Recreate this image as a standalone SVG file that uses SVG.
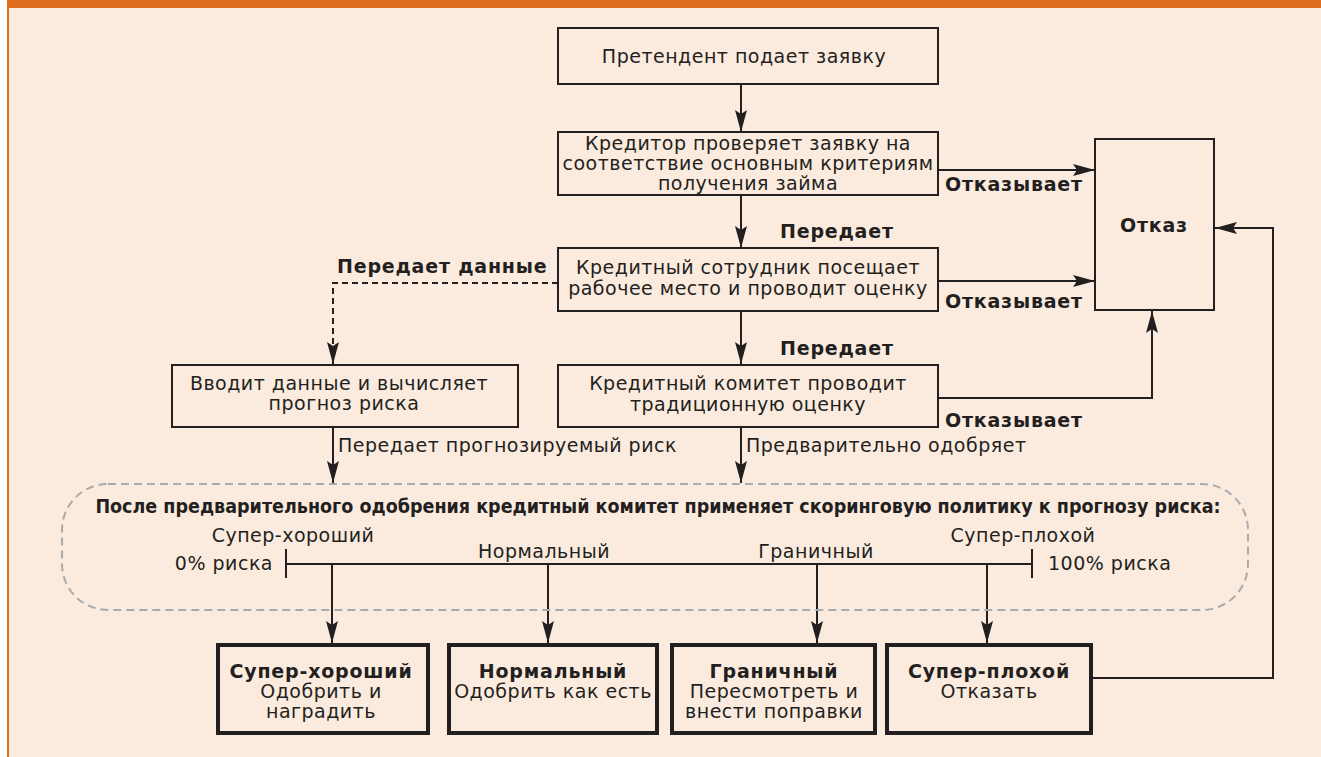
<svg xmlns="http://www.w3.org/2000/svg" width="1321" height="757" viewBox="0 0 1321 757">
<defs>
<marker id="ah" markerUnits="userSpaceOnUse" markerWidth="22" markerHeight="12" refX="22" refY="6" orient="auto"><path d="M0,0 L22,6 L0,12 L4,6 z" fill="#231F20"/></marker>
<style>
.t{font-family:"DejaVu Sans","Liberation Sans",sans-serif;font-size:19px;letter-spacing:0.5px;fill:#231F20}
.b{font-family:"DejaVu Sans","Liberation Sans",sans-serif;font-size:19px;letter-spacing:0.8px;font-weight:bold;fill:#231F20}
.c{text-anchor:middle}
.box{fill:none;stroke:#231F20;stroke-width:2}
.bbox{fill:none;stroke:#231F20;stroke-width:4}
.ln{fill:none;stroke:#231F20;stroke-width:2}
.ar{fill:none;stroke:#231F20;stroke-width:2;marker-end:url(#ah)}
</style>
</defs>
<rect x="0" y="0" width="1321" height="757" fill="#FFFFFF"/>
<rect x="7" y="0" width="1314" height="757" fill="#DE6D1F"/>
<rect x="9" y="8" width="1312" height="749" fill="#FBEBDF"/>

<g id="connectors">
<line class="ar" x1="741" y1="84" x2="741" y2="132"/>
<line class="ar" x1="741" y1="195" x2="741" y2="248"/>
<line class="ar" x1="741" y1="311" x2="741" y2="364"/>
<line class="ar" x1="938" y1="170" x2="1095" y2="170"/>
<line class="ar" x1="938" y1="281" x2="1095" y2="281"/>
<polyline class="ar" points="938,398 1152,398 1152,311"/>
<polyline class="ar" points="1093,678 1273,678 1273,228 1215,228"/>
<polyline class="ar" points="558,283 333,283 333,364" stroke-dasharray="6,4"/>
<line class="ar" x1="333" y1="427" x2="333" y2="483"/>
<line class="ar" x1="741" y1="427" x2="741" y2="483"/>
<line class="ar" x1="332" y1="564" x2="332" y2="643"/>
<line class="ar" x1="548" y1="564" x2="548" y2="643"/>
<line class="ar" x1="817" y1="564" x2="817" y2="643"/>
<line class="ar" x1="987" y1="564" x2="987" y2="643"/>
<text class="b" x="780" y="238">Передает</text>
<text class="b" x="780" y="355">Передает</text>
<text class="b" x="945" y="191">Отказывает</text>
<text class="b" x="945" y="308">Отказывает</text>
<text class="b" x="945" y="427">Отказывает</text>
<text class="b" x="337" y="273">Передает данные</text>
<text class="t" x="338" y="452">Передает прогнозируемый риск</text>
<text class="t" x="746" y="452">Предварительно одобряет</text>
</g>

<g id="n1"><rect class="box" x="558" y="28" width="380" height="56"/>
<text class="t c" x="744" y="63">Претендент подает заявку</text></g>

<g id="n2"><rect class="box" x="558" y="132" width="380" height="63"/>
<text class="t c" x="748" y="150">Кредитор проверяет заявку на</text>
<text class="t c" x="748" y="170">соответствие основным критериям</text>
<text class="t c" x="748" y="190">получения займа</text></g>

<g id="n3"><rect class="box" x="558" y="248" width="380" height="63"/>
<text class="t c" x="748" y="274">Кредитный сотрудник посещает</text>
<text class="t c" x="748" y="295">рабочее место и проводит оценку</text></g>

<g id="n4"><rect class="box" x="558" y="365" width="380" height="62"/>
<text class="t c" x="748" y="390">Кредитный комитет проводит</text>
<text class="t c" x="748" y="411">традиционную оценку</text></g>

<g id="n5"><rect class="box" x="172" y="365" width="346" height="62"/>
<text class="t c" x="339" y="390">Вводит данные и вычисляет</text>
<text class="t c" x="344" y="410">прогноз риска</text></g>

<g id="otkaz"><rect class="box" x="1095" y="139" width="119" height="171"/>
<text class="b c" x="1154" y="232">Отказ</text></g>

<g id="policy">
<rect x="62" y="484" width="1186" height="126" rx="46" ry="46" fill="none" stroke="#A8AAAD" stroke-width="2" stroke-dasharray="8,5"/>
<text x="658" y="513" text-anchor="middle" font-family="DejaVu Sans Condensed, DejaVu Sans, sans-serif" font-weight="bold" font-size="19.5" fill="#231F20">После предварительного одобрения кредитный комитет применяет скоринговую политику к прогнозу риска:</text>
<line class="ln" x1="286" y1="564" x2="1032" y2="564"/>
<line class="ln" x1="286" y1="549" x2="286" y2="578"/>
<line class="ln" x1="1032" y1="549" x2="1032" y2="578"/>
<text class="t" x="273" y="570" text-anchor="end">0% риска</text>
<text class="t" x="1048" y="570">100% риска</text>
<text class="t c" x="293" y="542">Супер-хороший</text>
<text class="t c" x="544" y="558">Нормальный</text>
<text class="t c" x="816" y="558">Граничный</text>
<text class="t c" x="1023" y="542">Супер-плохой</text>
</g>

<g id="superGood"><rect class="bbox" x="218" y="645" width="210" height="88"/>
<text class="b c" x="321" y="678">Супер-хороший</text>
<text class="t c" x="321" y="698">Одобрить и</text>
<text class="t c" x="321" y="718">наградить</text></g>

<g id="normal"><rect class="bbox" x="449" y="645" width="208" height="88"/>
<text class="b c" x="553" y="678">Нормальный</text>
<text class="t c" x="553" y="698">Одобрить как есть</text></g>

<g id="border"><rect class="bbox" x="672" y="645" width="203" height="88"/>
<text class="b c" x="774" y="678">Граничный</text>
<text class="t c" x="774" y="698">Пересмотреть и</text>
<text class="t c" x="774" y="718">внести поправки</text></g>

<g id="superBad"><rect class="bbox" x="887" y="645" width="204" height="88"/>
<text class="b c" x="989" y="678">Супер-плохой</text>
<text class="t c" x="989" y="698">Отказать</text></g>
</svg>
